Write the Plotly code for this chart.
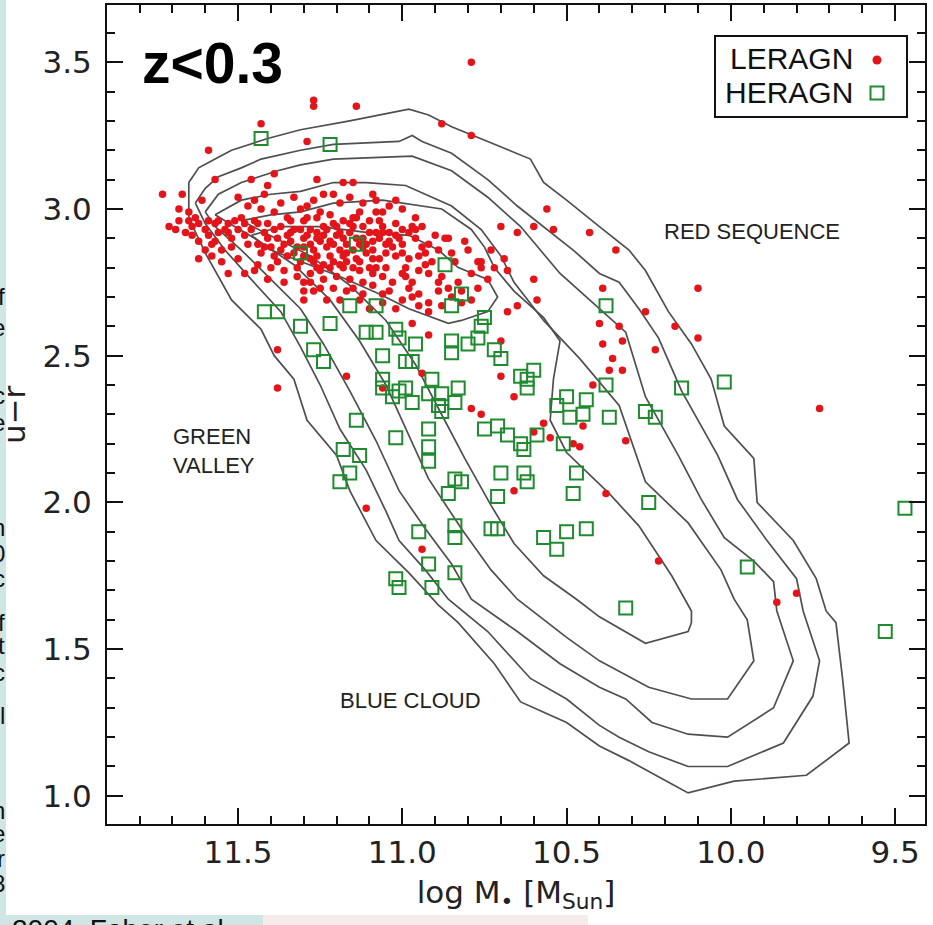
import plotly.graph_objects as go

# ---------------- axis ticks ----------------
x_ticks = [11.5, 11.0, 10.5, 10.0, 9.5]
x_ticklabels = ["11.5", "11.0", "10.5", "10.0", "9.5"]
y_ticks = [1.0, 1.5, 2.0, 2.5, 3.0, 3.5]
y_ticklabels = ["1.0", "1.5", "2.0", "2.5", "3.0", "3.5"]

# ---------------- density contours (galaxy population) ----------------
c1_x = [11.65, 11.62, 11.57, 11.52, 11.41, 11.31, 11.16, 10.98, 10.92, 10.85, 10.74, 10.61, 10.57, 10.50, 10.40,
        10.31, 10.26, 10.19, 10.12, 10.06, 10.02, 9.93, 9.92, 9.81, 9.74, 9.71, 9.68, 9.66, 9.64, 9.77, 9.99, 10.13,
        10.18, 10.31, 10.40, 10.50, 10.58, 10.64, 10.72, 10.83, 10.89, 10.98, 11.08, 11.16, 11.20, 11.29, 11.33,
        11.39, 11.43, 11.52, 11.60, 11.65]
c1_y = [3.09, 3.14, 3.17, 3.20, 3.24, 3.27, 3.30, 3.34, 3.32, 3.28, 3.23, 3.17, 3.09, 3.03, 2.94, 2.86, 2.79, 2.65,
        2.54, 2.42, 2.26, 2.15, 2.00, 1.87, 1.74, 1.63, 1.59, 1.40, 1.18, 1.07, 1.05, 1.01, 1.04, 1.12, 1.17, 1.25,
        1.29, 1.32, 1.45, 1.59, 1.65, 1.76, 1.87, 2.04, 2.16, 2.28, 2.42, 2.50, 2.59, 2.69, 2.85, 2.97]

c2_x = [11.63, 11.60, 11.56, 11.49, 11.43, 11.31, 11.21, 11.01, 10.97, 10.94, 10.85, 10.74, 10.65, 10.56, 10.48,
        10.40, 10.34, 10.28, 10.22, 10.15, 10.09, 10.04, 9.98, 9.89, 9.80, 9.78, 9.73, 9.75, 9.84, 10.01, 10.13,
        10.25, 10.34, 10.40, 10.50, 10.61, 10.74, 10.86, 10.93, 11.01, 11.05, 11.11, 11.19, 11.25, 11.31, 11.37,
        11.46, 11.54, 11.60]
c2_y = [3.02, 3.07, 3.11, 3.14, 3.17, 3.20, 3.22, 3.23, 3.25, 3.23, 3.19, 3.10, 3.01, 2.93, 2.86, 2.78, 2.75, 2.66,
        2.56, 2.38, 2.26, 2.16, 2.01, 1.87, 1.74, 1.63, 1.46, 1.34, 1.18, 1.10, 1.10, 1.15, 1.20, 1.24, 1.33, 1.40,
        1.56, 1.67, 1.77, 1.87, 1.97, 2.11, 2.25, 2.40, 2.53, 2.65, 2.76, 2.86, 2.95]

c3_x = [11.60, 11.56, 11.49, 11.38, 11.31, 11.21, 10.97, 10.85, 10.74, 10.64, 10.58, 10.52, 10.43, 10.32, 10.26,
        10.16, 10.09, 10.02, 9.93, 9.87, 9.86, 9.81, 9.87, 10.01, 10.13, 10.24, 10.32, 10.40, 10.52, 10.65, 10.79,
        10.85, 10.93, 11.01, 11.08, 11.16, 11.24, 11.31, 11.40, 11.49, 11.57]
c3_y = [2.99, 3.05, 3.09, 3.13, 3.15, 3.17, 3.18, 3.13, 3.04, 2.94, 2.86, 2.78, 2.69, 2.58, 2.36, 2.16, 2.01, 1.88,
        1.80, 1.73, 1.63, 1.46, 1.30, 1.20, 1.21, 1.25, 1.33, 1.37, 1.45, 1.56, 1.67, 1.79, 1.91, 2.04, 2.21, 2.38,
        2.54, 2.66, 2.76, 2.86, 2.94]

c4_x = [11.57, 11.49, 11.40, 11.31, 11.21, 11.11, 10.99, 10.85, 10.76, 10.70, 10.66, 10.57, 10.46, 10.34, 10.26,
        10.13, 10.03, 9.99, 9.95, 9.93, 10.01, 10.12, 10.25, 10.40, 10.50, 10.65, 10.73, 10.82, 10.92, 10.99, 11.05,
        11.13, 11.22, 11.33, 11.45, 11.54]
c4_y = [2.98, 3.03, 3.05, 3.06, 3.09, 3.09, 3.08, 3.01, 2.93, 2.84, 2.75, 2.62, 2.49, 2.33, 2.07, 1.93, 1.77, 1.67,
        1.60, 1.46, 1.33, 1.33, 1.37, 1.46, 1.54, 1.67, 1.77, 1.91, 2.08, 2.25, 2.40, 2.55, 2.69, 2.81, 2.90, 2.96]

c5_x = [11.49, 11.40, 11.31, 11.21, 11.06, 10.88, 10.79, 10.75, 10.72, 10.66, 10.57, 10.52, 10.54, 10.55, 10.50,
        10.37, 10.28, 10.18, 10.12, 10.12, 10.13, 10.26, 10.40, 10.47, 10.57, 10.66, 10.73, 10.81, 10.89, 10.96,
        11.05, 11.16, 11.28, 11.40]
c5_y = [2.96, 2.98, 2.99, 3.02, 3.03, 3.00, 2.93, 2.87, 2.80, 2.72, 2.63, 2.55, 2.42, 2.28, 2.17, 2.03, 1.92, 1.75,
        1.63, 1.59, 1.56, 1.52, 1.61, 1.67, 1.75, 1.86, 1.99, 2.15, 2.32, 2.47, 2.62, 2.74, 2.84, 2.91]

c6_x = [11.46, 11.37, 11.25, 11.11, 10.98, 10.89, 10.83, 10.74, 10.71, 10.74, 10.82, 10.86, 10.98, 11.07, 11.19,
        11.31, 11.40]
c6_y = [2.91, 2.94, 2.94, 2.92, 2.91, 2.86, 2.80, 2.76, 2.70, 2.65, 2.62, 2.61, 2.66, 2.71, 2.77, 2.82, 2.86]

# ---------------- LERAGN (red dots) ----------------
lera_x = [
    10.79, 11.27, 11.27, 11.14, 10.88, 10.79, 11.29, 11.43, 11.59, 10.56, 10.70, 10.65, 10.60, 10.54, 10.43, 10.35,
    10.39, 10.60, 10.69, 10.68, 10.76, 10.76, 10.81, 10.86, 10.10, 10.26, 10.17, 10.10, 10.33, 10.23, 10.33, 9.73,
    10.32, 10.22, 9.86, 9.80, 10.40, 10.34, 10.39, 10.36, 10.37, 10.42, 10.57, 10.60, 10.55, 10.48, 10.46, 10.45,
    10.79, 10.76, 10.66, 10.70, 10.94, 10.70, 10.68, 10.65, 10.59, 10.97, 10.92, 10.66, 10.38, 10.94, 11.06, 11.38,
    11.11, 11.38, 11.17, 11.73, 11.67, 11.61, 11.68, 11.69, 11.62, 11.58, 11.53, 11.48, 11.57, 11.46, 11.41, 11.39,
    11.26, 11.18, 11.15, 11.09, 11.02, 11.00, 10.96, 10.87,
    11.08, 11.24, 11.21, 11.29, 11.25, 11.15, 11.22, 11.07, 10.97, 11.06, 11.01, 10.98, 11.15, 11.10, 11.19, 11.23,
    11.28, 11.30, 11.25, 11.21, 11.17, 11.11, 11.05, 11.02, 10.95, 10.93, 10.94, 10.91, 10.99, 11.05, 11.09, 11.15,
    11.20, 11.25, 11.28, 11.12, 11.03, 10.97, 10.83, 10.86, 10.77, 10.73,
    11.68, 11.65, 11.64, 11.62, 11.59, 11.57, 11.56, 11.53, 11.59, 11.56, 11.52, 11.50, 11.62, 11.58, 11.52, 11.47,
    11.55, 11.50,
    11.50, 11.47, 11.43, 11.39, 11.35, 11.49, 11.45, 11.41, 11.37, 11.34, 11.46, 11.42, 11.38, 11.34, 11.44, 11.40,
    11.36, 11.32, 11.43, 11.39, 11.35, 11.40, 11.36, 11.31, 11.32, 11.28, 11.26, 11.24,
    11.30, 11.26, 11.18, 11.14, 11.24, 11.20, 11.12, 11.30, 11.26, 11.18, 11.14, 11.12, 11.30, 11.26, 11.22, 11.18,
    11.14, 11.22, 11.18, 11.10, 11.16, 11.06, 11.23, 11.19, 11.30, 11.12,
    11.08, 11.10, 11.06, 11.02, 10.94, 11.09, 11.04, 11.00, 10.92, 10.98, 10.85, 11.08, 11.00, 10.95, 10.92, 10.88,
    10.98, 10.89, 11.06, 11.00, 10.95, 10.92, 10.88, 10.92, 11.06, 10.82, 10.79, 10.85,
    11.33, 11.29, 11.27, 11.23, 11.20, 11.16, 11.13, 11.09, 11.07, 11.13, 11.17, 11.21, 11.24, 11.28, 11.33, 11.37,
    11.41, 11.44, 11.48, 11.53, 11.29, 11.21, 11.16, 11.04, 11.00, 10.96, 11.03, 11.07, 11.12, 11.19, 11.26, 11.34,
    11.38, 11.44, 11.27, 11.21, 11.15, 11.09, 10.99, 10.95,
    11.45, 11.42, 11.37, 11.33, 11.31, 11.27, 11.19, 11.16, 11.12, 11.13, 11.06, 11.04,
    11.31, 11.28, 11.24, 11.22, 11.17, 11.15, 11.11, 11.08, 11.05, 11.02, 11.00, 11.09, 11.13, 11.19, 11.27, 11.32,
    11.35, 11.39, 11.42,
    11.45, 11.41, 11.36, 11.30, 11.25, 11.17, 11.13, 11.04, 11.02, 10.97, 11.10, 11.30,
    10.90, 10.89, 10.84, 10.80, 10.79, 10.74, 10.72, 10.77, 10.82, 10.89, 10.93, 10.96,
    11.66, 11.63, 11.60, 11.57, 11.54, 11.51, 11.48, 11.55, 11.60, 11.65, 11.71, 11.64,
]
lera_y = [
    3.50, 3.37, 3.35, 3.35, 3.29, 3.25, 3.23, 3.29, 3.20, 3.00, 2.94, 2.92, 2.94, 2.93, 2.92, 2.86,
    2.73, 2.76, 2.83, 2.79, 2.82, 2.80, 2.89, 2.90, 2.73, 2.65, 2.60, 2.56, 2.55, 2.52, 2.45, 2.32,
    2.21, 1.80, 1.66, 1.69, 2.61, 2.60, 2.54, 2.49, 2.45, 2.40, 2.27, 2.24, 2.22, 2.20, 2.19, 2.26,
    2.32, 2.30, 2.36, 2.43, 2.44, 2.55, 2.65, 2.67, 2.69, 2.61, 2.57, 2.04, 2.03, 1.84, 2.39, 2.39,
    1.98, 2.52, 2.43, 3.05, 3.05, 3.03, 3.00, 2.93, 2.83, 2.84, 2.78, 2.78, 3.10, 3.10, 3.08, 3.12,
    3.10, 3.09, 3.09, 3.05, 3.03, 3.00, 2.97, 2.90,
    2.99, 3.05, 3.05, 3.01, 2.99, 2.97, 2.98, 2.96, 2.94, 2.92, 2.90, 2.92, 2.94, 2.92, 2.92, 2.93,
    2.93, 2.87, 2.89, 2.88, 2.85, 2.85, 2.85, 2.84, 2.84, 2.85, 2.87, 2.82, 2.80, 2.80, 2.78, 2.80,
    2.77, 2.79, 2.75, 2.75, 2.75, 2.75, 2.75, 2.73, 2.82, 2.86,
    2.96, 2.96, 2.94, 2.95, 2.96, 2.95, 2.96, 2.95, 2.91, 2.92, 2.90, 2.93, 2.89, 2.88, 2.87, 2.88,
    2.82, 2.83,
    3.04, 3.01, 3.00, 2.99, 2.97, 2.97, 2.96, 2.95, 2.94, 2.96, 2.93, 2.92, 2.90, 2.92, 2.88, 2.87,
    2.88, 2.87, 2.85, 2.84, 2.84, 2.80, 2.79, 2.82, 2.77, 2.78, 2.80, 2.76,
    2.96, 2.97, 2.96, 2.97, 2.94, 2.94, 2.94, 2.90, 2.90, 2.90, 2.90, 2.87, 2.84, 2.84, 2.84, 2.84,
    2.83, 2.80, 2.80, 2.80, 2.76, 2.77, 2.69, 2.69, 2.75, 2.71,
    3.03, 2.96, 2.94, 2.95, 2.94, 2.89, 2.89, 2.88, 2.88, 2.83, 2.85, 2.80, 2.78, 2.79, 2.78, 2.77,
    2.73, 2.72, 2.71, 2.69, 2.67, 2.68, 2.67, 2.65, 2.68, 2.68, 2.69, 2.70,
    2.93, 2.91, 2.86, 2.87, 2.91, 2.92, 2.88, 2.86, 2.83, 2.82, 2.82, 2.82, 2.81, 2.83, 2.85, 2.86,
    2.90, 2.95, 2.91, 2.92, 2.97, 2.95, 2.95, 2.92, 2.93, 2.90, 2.87, 2.90, 2.90, 2.86, 2.92, 2.89,
    2.82, 2.81, 2.72, 2.73, 2.73, 2.74, 2.77, 2.71,
    3.03, 3.05, 3.02, 3.04, 3.00, 3.03, 3.02, 3.04, 3.02, 2.99, 2.99, 3.01,
    2.93, 2.88, 2.91, 2.89, 2.88, 2.86, 2.88, 2.92, 2.88, 2.91, 2.85, 2.83, 2.79, 2.81, 2.82, 2.80,
    2.91, 2.93, 2.87,
    2.79, 2.76, 2.75, 2.72, 2.73, 2.72, 2.69, 2.72, 2.66, 2.70, 2.66, 2.69,
    2.91, 2.86, 2.82, 2.86, 2.78, 2.76, 2.80, 2.73, 2.72, 2.75, 2.81, 2.93,
    2.92, 2.97, 2.93, 2.89, 2.93, 2.96, 2.95, 2.86, 2.86, 2.99, 2.94, 2.91,
]

# ---------------- HERAGN (green open squares) ----------------
hera_x = [
    11.43, 11.22, 11.31, 11.14, 10.87, 11.42, 11.38, 11.31, 11.22, 11.16, 11.08, 10.85, 11.11, 11.08, 11.02, 11.01,
    10.96, 10.85, 10.85, 11.27, 11.24, 11.06, 10.99, 10.97, 11.06, 11.06, 10.99, 10.91, 10.88, 10.82, 10.75, 10.76,
    10.77, 10.80, 10.72, 10.70, 10.38, 11.03, 11.01, 10.97, 10.92, 10.89, 10.83, 10.84, 10.88, 10.64, 10.62, 10.60,
    10.62, 10.53, 10.50, 10.44, 10.49, 10.45, 10.38, 10.37, 10.75, 10.71, 10.68, 10.64, 10.63, 10.59, 10.51, 10.92,
    11.02, 10.92, 10.92, 10.70, 10.63, 10.62, 10.84, 10.82, 10.86, 10.71, 10.47, 10.48, 10.25, 10.26, 10.23, 10.15,
    10.95, 10.84, 10.84, 10.73, 10.71, 10.57, 10.53, 10.50, 10.44, 10.92, 10.84, 11.02, 10.91, 11.01, 10.02, 9.95,
    9.47, 10.32, 9.53, 11.14, 11.18, 11.13, 11.16, 11.19,
]
hera_y = [
    3.24, 3.22, 2.85, 2.88, 2.81, 2.65, 2.65, 2.60, 2.61, 2.67, 2.67, 2.67, 2.58, 2.58, 2.59, 2.56,
    2.54, 2.55, 2.51, 2.52, 2.48, 2.50, 2.48, 2.48, 2.42, 2.39, 2.39, 2.42, 2.37, 2.71, 2.63, 2.60,
    2.56, 2.54, 2.52, 2.49, 2.67, 2.36, 2.38, 2.34, 2.37, 2.33, 2.39, 2.34, 2.31, 2.43, 2.42, 2.45,
    2.39, 2.33, 2.36, 2.35, 2.29, 2.30, 2.40, 2.29, 2.25, 2.26, 2.23, 2.20, 2.18, 2.23, 2.20, 2.25,
    2.22, 2.19, 2.14, 2.10, 2.10, 2.07, 2.08, 2.07, 2.03, 2.02, 2.10, 2.03, 2.00, 2.31, 2.29, 2.39,
    1.90, 1.92, 1.88, 1.91, 1.91, 1.88, 1.84, 1.90, 1.91, 1.79, 1.76, 1.74, 1.71, 1.71, 2.41, 1.78,
    1.98, 1.64, 1.56, 2.28, 2.18, 2.16, 2.10, 2.07,
]

# ---------------- figure ----------------
fig = go.Figure()

contours = [(c1_x, c1_y), (c2_x, c2_y), (c3_x, c3_y), (c4_x, c4_y), (c5_x, c5_y), (c6_x, c6_y)]
for cx, cy in contours:
    fig.add_trace(go.Scatter(
        x=cx + [cx[0]], y=cy + [cy[0]], mode="lines",
        line=dict(color="#4f4f4f", width=1.7), hoverinfo="skip", showlegend=False))

fig.add_trace(go.Scatter(
    x=lera_x, y=lera_y, mode="markers", name="LERAGN", showlegend=False,
    marker=dict(size=7.5, color="#e4141b", line=dict(width=0))))

fig.add_trace(go.Scatter(
    x=hera_x, y=hera_y, mode="markers", name="HERAGN", showlegend=False,
    marker=dict(symbol="square-open", size=13, color="#1f8a2f", line=dict(width=2, color="#1f8a2f"))))

axis_common = dict(
    automargin=False,
    showline=True, linewidth=2, linecolor="#111111", mirror="ticks",
    ticks="inside", ticklen=16, tickwidth=2, tickcolor="#111111",
    showgrid=False, zeroline=False,
    tickfont=dict(family="DejaVu Sans", size=31, color="#222222"),
    minor=dict(ticks="inside", ticklen=8, tickwidth=2, tickcolor="#111111",
               tickmode="linear", tick0=0, dtick=0.1, showgrid=False),
)

fig.update_xaxes(
    range=[11.899, 9.409], tickmode="array", tickvals=x_ticks, ticktext=x_ticklabels,
    ticklabelstandoff=0,
    title=dict(text="log M<sub>\u2022</sub> [M<sub>Sun</sub>]",
               font=dict(family="DejaVu Sans", size=31, color="#222222"), standoff=12),
    **axis_common)
fig.update_yaxes(
    range=[0.904, 3.695], tickmode="array", tickvals=y_ticks, ticktext=y_ticklabels,
    ticklabelstandoff=7, **axis_common)

# paper conversion helpers (plot area: x 107..925, y 5..824 px)
def px(xp):
    return (xp - 107) / 818.0

def py(yp):
    return (824 - yp) / 819.0

shapes = [
    dict(type="rect", xref="paper", yref="paper", x0=px(0), x1=px(6), y0=py(925), y1=py(0),
         fillcolor="#cfe6e4", line=dict(width=0), layer="below"),
    dict(type="rect", xref="paper", yref="paper", x0=px(0), x1=px(263), y0=py(925), y1=py(915),
         fillcolor="#cfe6e4", line=dict(width=0), layer="below"),
    dict(type="rect", xref="paper", yref="paper", x0=px(263), x1=px(588), y0=py(925), y1=py(915),
         fillcolor="#f6ecec", line=dict(width=0), layer="below"),
    dict(type="rect", xref="paper", yref="paper", x0=px(715), x1=px(907), y0=py(117), y1=py(36),
         line=dict(color="#111111", width=2), fillcolor="rgba(0,0,0,0)"),
    dict(type="circle", xref="paper", yref="paper", x0=px(872.5), x1=px(881.5), y0=py(64.5), y1=py(55.5),
         fillcolor="#e4141b", line=dict(width=0)),
    dict(type="rect", xref="paper", yref="paper", x0=px(870.5), x1=px(883.5), y0=py(99.5), y1=py(86.5),
         fillcolor="rgba(0,0,0,0)", line=dict(color="#1f8a2f", width=2)),
]

annotations = [
    dict(text="<b>z&lt;0.3</b>", x=px(140), y=py(63), xanchor="left", yanchor="middle",
         font=dict(family="Liberation Sans, Arial", size=57, color="#000000")),
    dict(text="LERAGN", x=px(855), y=py(59), xanchor="right", yanchor="middle",
         font=dict(family="Liberation Sans, Arial", size=30, color="#111111")),
    dict(text="HERAGN", x=px(855), y=py(93), xanchor="right", yanchor="middle",
         font=dict(family="Liberation Sans, Arial", size=30, color="#111111")),
    dict(text="RED SEQUENCE", x=px(752), y=py(231), xanchor="center", yanchor="middle",
         font=dict(family="Liberation Sans, Arial", size=22, color="#222222")),
    dict(text="GREEN<br>VALLEY", x=px(171), y=py(451), xanchor="left", yanchor="middle", align="left",
         font=dict(family="Liberation Sans, Arial", size=22, color="#222222")),
    dict(text="BLUE CLOUD", x=px(410), y=py(700), xanchor="center", yanchor="middle",
         font=dict(family="Liberation Sans, Arial", size=22, color="#222222")),
    dict(text="u\u2212r", x=px(14), y=py(415), xanchor="center", yanchor="middle", textangle=-90,
         font=dict(family="DejaVu Sans", size=31, color="#222222")),
    dict(text="2004, Faber et al.", x=px(10), y=py(912), xanchor="left", yanchor="top",
         font=dict(family="Liberation Sans, Arial", size=28, color="#111111")),
]

frag_y = [297, 327, 395, 422, 527, 553, 578, 622, 645, 672, 715, 810, 833, 858, 883]
frag_txt = ["f", "e", "c", "e", "n", "0", "c", "f", "t", "c", "l", "n", "e", "r", "8"]
for fy, ft in zip(frag_y, frag_txt):
    annotations.append(dict(text=ft, x=px(7), y=py(fy), xanchor="right", yanchor="middle",
                            font=dict(family="Liberation Sans, Arial", size=24, color="#111111")))

for a in annotations:
    a.update(xref="paper", yref="paper", showarrow=False)

fig.update_layout(
    width=933, height=925,
    margin=dict(l=107, r=8, t=5, b=101),
    paper_bgcolor="white", plot_bgcolor="white",
    shapes=shapes, annotations=annotations,
    showlegend=False, hovermode=False,
)

fig.write_html("out.html",
               config={"displayModeBar": False, "staticPlot": True},
               post_script="document.body.style.margin='0px';document.body.style.overflow='hidden';")
